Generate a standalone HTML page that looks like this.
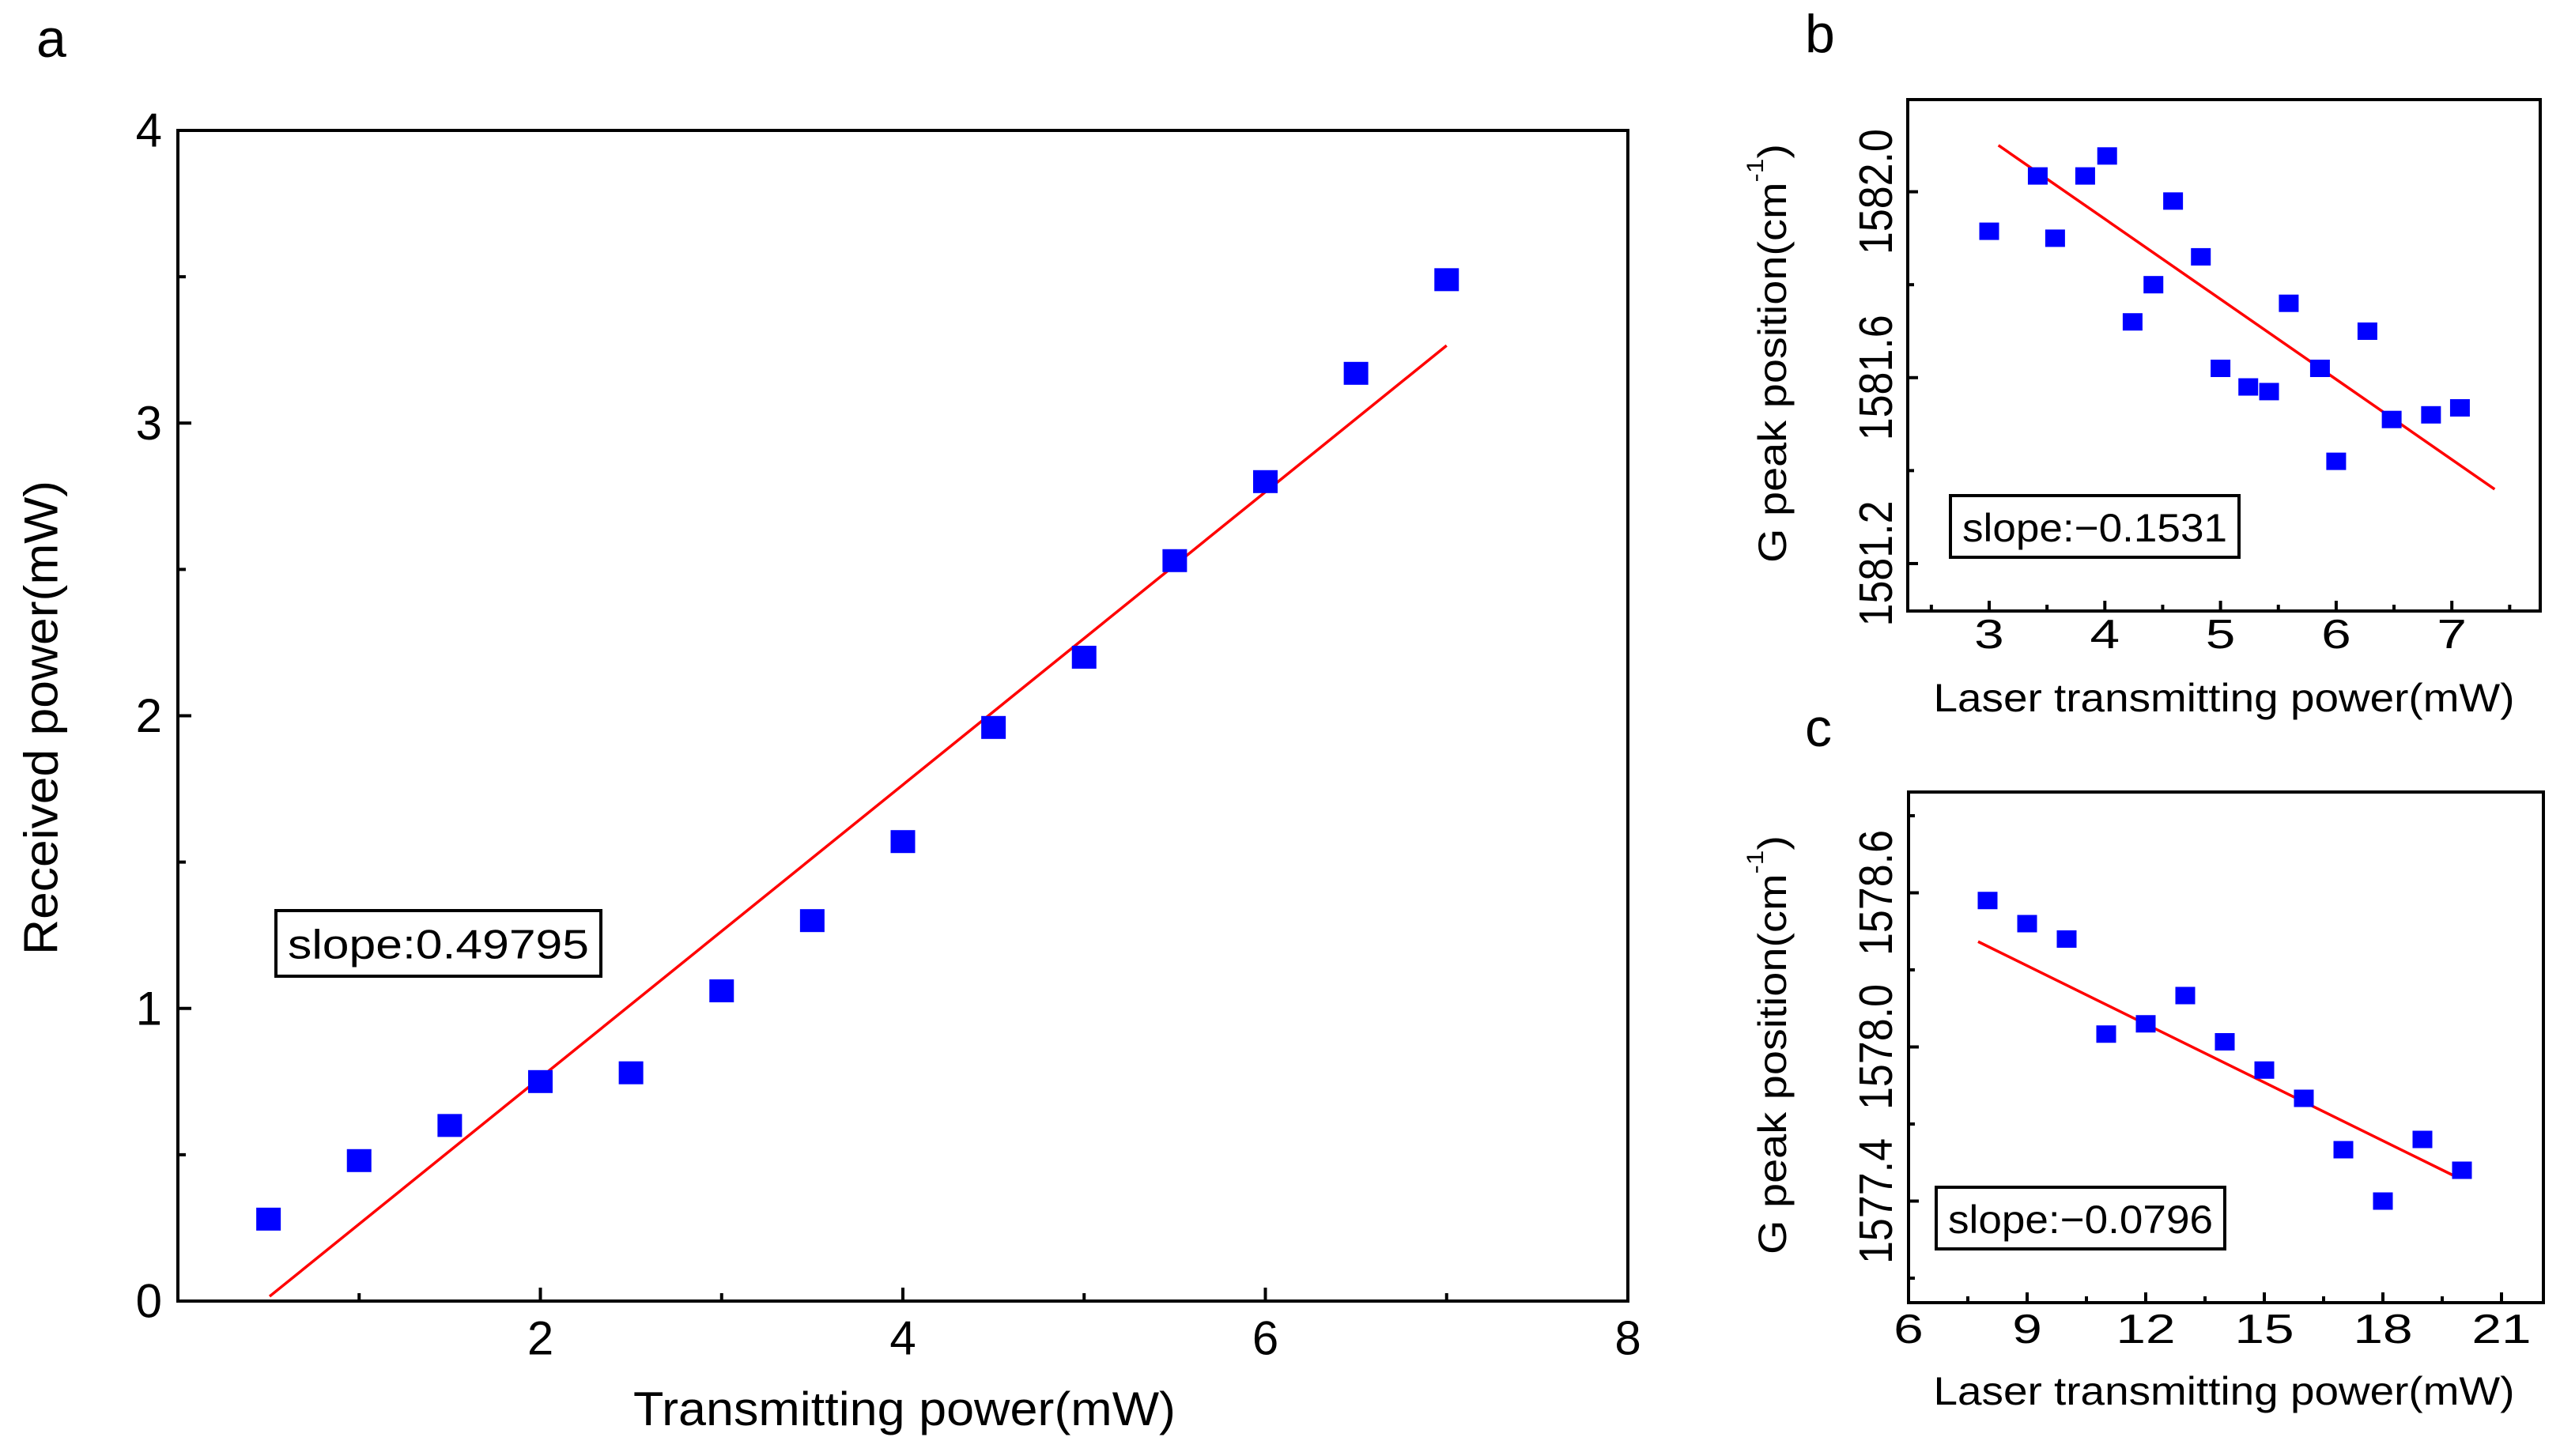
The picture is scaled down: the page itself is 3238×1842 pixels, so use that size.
<!DOCTYPE html>
<html><head><meta charset="utf-8"><style>
html,body{margin:0;padding:0;background:#fff;}
svg{display:block;font-family:"Liberation Sans",Arial,sans-serif;}
</style></head><body>
<svg id="fig" width="3238" height="1842" viewBox="0 0 3238 1842" xmlns="http://www.w3.org/2000/svg">
<rect width="3238" height="1842" fill="#fff"/>
<text x="46" y="72" font-size="68">a</text>
<text x="2283" y="66" font-size="68">b</text>
<text x="2283" y="944" font-size="68">c</text>
<g id="pa"></g>
<g id="pb"></g>
<g id="pc"></g>
</svg>
<script>
// Panel a data
const aX = [0.5,1,1.5,2,2.5,3,3.5,4,4.5,5,5.5,6,6.5,7];
const aY = [0.28,0.48,0.60,0.75,0.78,1.06,1.30,1.57,1.96,2.20,2.53,2.80,3.17,3.49];
const aFitX = [0.506,7.0];
const aFitY = [0.016,3.265];
const aXTicks = [2,4,6,8];
const aYTicks = [0,1,2,3,4];
// Panel b data
const bX = [3.0,3.42,3.57,3.83,4.02,4.24,4.42,4.59,4.83,5.0,5.24,5.42,5.59,5.86,6.0,6.27,6.48,6.82,7.07];
const bY = [1581.915,1582.034,1581.90,1582.034,1582.077,1581.72,1581.80,1581.98,1581.86,1581.62,1581.58,1581.57,1581.76,1581.62,1581.42,1581.70,1581.51,1581.52,1581.535];
const bFitX = [3.08,7.37];
const bFitY = [1582.10,1581.36];
const bXTicks = [3,4,5,6,7];
const bYTicks = [1581.2,1581.6,1582.0];
// Panel c data
const cX = [8,9,10,11,12,13,14,15,16,17,18,19,20];
const cY = [1578.57,1578.48,1578.42,1578.05,1578.09,1578.20,1578.02,1577.91,1577.80,1577.60,1577.40,1577.64,1577.52];
const cFitX = [7.76,19.78];
const cFitY = [1578.41,1577.50];
const cXTicks = [6,9,12,15,18,21];
const cYTicks = [1577.4,1578.0,1578.6];

const NS = "http://www.w3.org/2000/svg";
function mk(parent, tag, attrs, text){
  const e = document.createElementNS(NS, tag);
  for (const k in attrs) e.setAttribute(k, attrs[k]);
  if (text !== undefined) e.textContent = text;
  parent.appendChild(e); return e;
}
function lin(d0,d1,r0,r1){ return v => r0 + (v-d0)*(r1-r0)/(d1-d0); }

function panel(g, cfg){
  const sx = lin(cfg.xd[0],cfg.xd[1],cfg.L,cfg.R);
  const sy = lin(cfg.yd[0],cfg.yd[1],cfg.B,cfg.T);
  cfg.xMinor.forEach(v=>{
    const t = mk(g,'line',{x1:sx(v),x2:sx(v),y1:cfg.B,y2:cfg.B-cfg.minLen,stroke:'#000','stroke-width':4});
    
    
  });
  cfg.yMinor.forEach(v=>{
    const t = mk(g,'line',{x1:cfg.L,x2:cfg.L+cfg.minLen,y1:sy(v),y2:sy(v),stroke:'#000','stroke-width':4});
    
    
  });
  cfg.xt.forEach((v,i)=>{
    const t = mk(g,'line',{x1:sx(v),x2:sx(v),y1:cfg.B,y2:cfg.B-cfg.majLen,stroke:'#000','stroke-width':4});
    
    
    const l = mk(g,'text',{x:sx(v),y:cfg.xLabY,'font-size':cfg.tfs,'text-anchor':'middle','dominant-baseline':'central'}, cfg.xfmt(v));
    if (cfg.xStretch) l.setAttribute('transform',`translate(${sx(v)},0) scale(1.3,1) translate(${-sx(v)},0)`);
    
    
  });
  cfg.yt.forEach(v=>{
    const t = mk(g,'line',{x1:cfg.L,x2:cfg.L+cfg.majLen,y1:sy(v),y2:sy(v),stroke:'#000','stroke-width':4});
    
    
    let l;
    if (cfg.yRot){
      l = mk(g,'text',{x:0,y:0,'font-size':cfg.tfs,'text-anchor':'middle','dominant-baseline':'central',
        transform:`translate(${cfg.yLabX},${sy(v)}) rotate(-90) scale(1,1.15)`}, cfg.yfmt(v));
    } else {
      l = mk(g,'text',{x:cfg.yLabX,y:sy(v),'font-size':cfg.tfs,'text-anchor':'end','dominant-baseline':'central'}, cfg.yfmt(v));
    }
    
    
  });
  const f = mk(g,'rect',{x:cfg.L,y:cfg.T,width:cfg.R-cfg.L,height:cfg.B-cfg.T,fill:'none',stroke:'#000','stroke-width':4});
  
  
  const fl = mk(g,'line',{x1:sx(cfg.fx[0]),y1:sy(cfg.fy[0]),x2:sx(cfg.fx[1]),y2:sy(cfg.fy[1]),stroke:'#ff0000','stroke-width':3.5});
  
  
  cfg.px.forEach((x,i)=>{
    const r = mk(g,'rect',{x:sx(x)-cfg.mw/2,y:sy(cfg.py[i])-cfg.mh/2,width:cfg.mw,height:cfg.mh,fill:'#0000ff'});
    
    
  });
  const sb = cfg.sb;
  const br = mk(g,'rect',{x:sb[0],y:sb[1],width:sb[2],height:sb[3],fill:'#fff',stroke:'#000','stroke-width':4});
  
  
  const bt = mk(g,'text',{x:sb[0]+sb[2]/2,y:sb[1]+sb[3]/2+2,'font-size':cfg.sfs,'text-anchor':'middle','dominant-baseline':'central',textLength:sb[2]-30,lengthAdjust:'spacingAndGlyphs'}, cfg.stext);
  
  
  const xt = mk(g,'text',{x:cfg.xTitle[0],y:cfg.xTitle[1],'font-size':cfg.afs,'text-anchor':'middle',textLength:cfg.xTitle[2],lengthAdjust:'spacingAndGlyphs'}, cfg.xTitleText);
  
  
  const yt = mk(g,'text',{x:0,y:0,'font-size':cfg.afs,'text-anchor':'middle','dominant-baseline':'central',textLength:cfg.yTitle[2],lengthAdjust:'spacingAndGlyphs',
    transform:`translate(${cfg.yTitle[0]},${cfg.yTitle[1]}) rotate(-90)`});
  if (cfg.sup){
    yt.appendChild(document.createTextNode('G peak position(cm'));
    mk(yt,'tspan',{'font-size':cfg.afs*0.6,dy:-22},'-1');
    mk(yt,'tspan',{dy:22},')');
  } else yt.textContent = cfg.yTitleText;
  
  
}

panel(document.getElementById('pa'),{
  L:225,R:2059,T:165,B:1646,xd:[0,8],yd:[0,4],
  xt:aXTicks,yt:aYTicks,xMinor:[1,3,5,7],yMinor:[0.5,1.5,2.5,3.5],
  majLen:17,minLen:10,tfs:60,xLabY:1693,yLabX:205,
  xfmt:v=>String(v),yfmt:v=>String(v),
  px:aX,py:aY,fx:aFitX,fy:aFitY,mw:31,mh:29,
  sb:[349,1152,411,83],sfs:52,stext:'slope:0.49795',
  afs:60,xTitle:[1144,1803,686],xTitleText:'Transmitting power(mW)',
  yTitle:[52,908,600],yTitleText:'Received power(mW)'
});
panel(document.getElementById('pb'),{
  L:2413,R:3213,T:126,B:773,xd:[3-103/146.3,3+697/146.3],yd:[1581.2-60/587.5,1582.0+116.5/587.5],
  xt:bXTicks,yt:bYTicks,xMinor:[2.5,3.5,4.5,5.5,6.5,7.5],yMinor:[1581.4,1581.8],
  majLen:13,minLen:8,tfs:52,xLabY:802,yLabX:2372,yRot:true,xStretch:true,
  xfmt:v=>String(v),yfmt:v=>v.toFixed(1),
  px:bX,py:bY,fx:bFitX,fy:bFitY,mw:25,mh:22,
  sb:[2467,627,365,78],sfs:50,stext:'slope:\u22120.1531',
  afs:50,xTitle:[2813,900,735],xTitleText:'Laser transmitting power(mW)',
  yTitle:[2242,447,530],sup:true
});
panel(document.getElementById('pc'),{
  L:2414,R:3217,T:1002,B:1648,xd:[6,6+803/50],yd:[1577.4-128.5/325,1578.6+127.5/325],
  xt:cXTicks,yt:cYTicks,xMinor:[7.5,10.5,13.5,16.5,19.5],yMinor:[1577.1,1577.7,1578.3,1578.9],
  majLen:13,minLen:8,tfs:52,xLabY:1681,yLabX:2372,yRot:true,xStretch:true,
  xfmt:v=>String(v),yfmt:v=>v.toFixed(1),
  px:cX,py:cY,fx:cFitX,fy:cFitY,mw:25,mh:22,
  sb:[2449,1502,365,78],sfs:50,stext:'slope:\u22120.0796',
  afs:50,xTitle:[2813,1777,735],xTitleText:'Laser transmitting power(mW)',
  yTitle:[2242,1322,530],sup:true
});
</script>
</body></html>
